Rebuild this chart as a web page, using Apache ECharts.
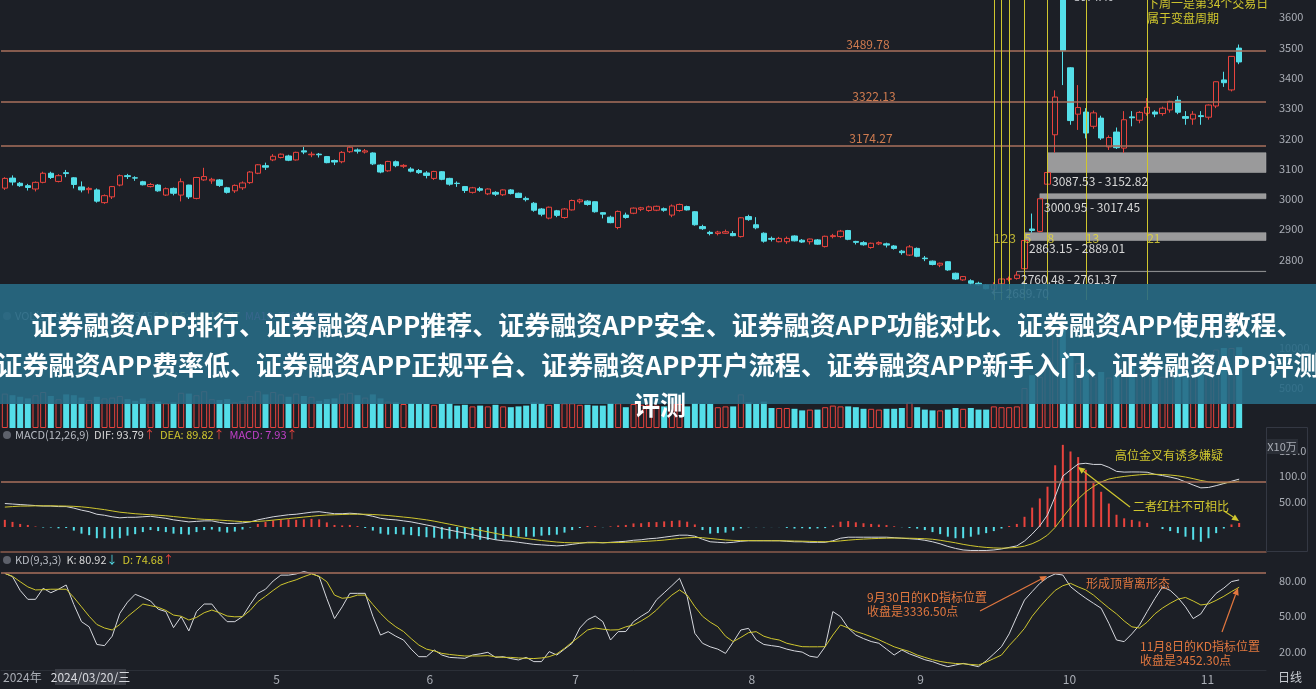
<!DOCTYPE html>
<html>
<head>
<meta charset="utf-8">
<title>上证指数 日线</title>
<script src="https://cdn.jsdelivr.net/npm/echarts@6/dist/echarts.min.js"></script>
<style>
  html, body { margin: 0; padding: 0; background: #1c1f26; }
  #chart { width: 1316px; height: 689px; }
</style>
</head>
<body>
<div id="chart"></div>
<script>
// 2024-03-11 ~ 2024-11-08 日线
const candleOpen = [
  3036, 3069, 3052, 3044, 3033, 3055, 3085, 3058, 3087, 3070, 3040, 3031, 3030, 2988, 3007,
  3046, 3077, 3070, 3057, 3041, 3046, 3013, 3035, 3013, 3046, 3002, 3063, 3060, 3063, 3037, 3027, 3037, 3054, 3085, 3110,
  3129, 3137, 3142, 3129, 3159, 3146, 3148, 3140, 3127, 3123, 3156, 3162, 3155, 3152, 3112, 3093, 3123, 3108, 3099, 3094,
  3086, 3068, 3090, 3068, 3052, 3041, 3022, 3034, 3017, 3022, 3014, 3030, 3019, 3002, 2986, 2967, 2937, 2961, 2939,
  2964, 2991, 2993, 2991, 2955, 2940, 2906, 2947, 2953, 2966, 2962, 2963, 2968, 2947, 2962, 2975, 2958, 2909, 2890, 2886, 2887, 2886, 2876,
  2942, 2915, 2887, 2870, 2859, 2859, 2878, 2864, 2859, 2865, 2843, 2876, 2876, 2896, 2860, 2856, 2840, 2852, 2852, 2845, 2828, 2815,
  2837, 2805, 2795, 2782, 2793, 2755, 2733, 2730, 2722, 2716, 2702, 2720, 2735, 2738, 2770, 2901, 2893, 3049, 3212,
  3674.4, 3433, 3280, 3287, 3240, 3267, 3172, 3221, 3168, 3271, 3260, 3283, 3287, 3282, 3294, 3326, 3272, 3264,
  3275, 3270, 3307, 3393, 3360, 3498
];
const candleClose = [
  3068, 3056, 3044, 3038, 3055, 3085, 3071, 3077, 3084, 3048, 3030, 3035, 2993, 3011, 3041,
  3077, 3074, 3069, 3047, 3048, 3027, 3034, 3019, 3057, 3007, 3071, 3074, 3065, 3045, 3022, 3045, 3053, 3089, 3113, 3105,
  3141, 3148, 3128, 3154, 3155, 3148, 3146, 3120, 3122, 3154, 3171, 3158, 3159, 3116, 3089, 3124, 3110, 3111, 3092, 3087,
  3078, 3091, 3065, 3049, 3051, 3028, 3037, 3029, 3033, 3016, 3030, 3018, 3005, 2998, 2963, 2950, 2973, 2946, 2967,
  2995, 2997, 2982, 2958, 2950, 2922, 2959, 2939, 2970, 2971, 2974, 2976, 2963, 2977, 2982, 2964, 2915, 2902, 2886, 2891, 2892, 2879, 2938,
  2932, 2905, 2861, 2867, 2870, 2870, 2862, 2858, 2868, 2851, 2877, 2879, 2894, 2867, 2857, 2849, 2854, 2856, 2848, 2837, 2823, 2842,
  2811, 2803, 2784, 2788, 2766, 2736, 2744, 2722, 2717, 2704, 2717, 2736, 2737, 2749, 2863.13, 2896.31, 3000.95, 3087.53, 3336.5,
  3489.78, 3258.86, 3301.93, 3217.74, 3284.32, 3201.29, 3202.95, 3169.38, 3261.56, 3268.11, 3285.87, 3302.8, 3280.26, 3299.7, 3322.2, 3286.41, 3266.24, 3279.82,
  3272.01, 3310.21, 3386.99, 3383.81, 3470.66, 3452.3
];
const candleLow = [
  3030, 3045, 3040, 3028, 3025, 3052, 3066, 3055, 3072, 3035, 3022, 3018, 2988, 2984, 3000,
  3042, 3066, 3060, 3045, 3038, 3024, 3010, 3012, 2992, 3000, 2999, 3060, 3050, 3040, 3018, 3020, 3030, 3050, 3082, 3096,
  3125, 3134, 3125, 3127, 3148, 3138, 3137, 3118, 3112, 3118, 3152, 3150, 3150, 3112, 3085, 3090, 3105, 3102, 3088, 3083,
  3068, 3063, 3062, 3044, 3040, 3020, 3018, 3024, 3013, 3010, 3010, 3015, 3003, 2992, 2958, 2943, 2933, 2940, 2935,
  2962, 2985, 2978, 2955, 2936, 2920, 2900, 2935, 2950, 2960, 2958, 2960, 2958, 2940, 2958, 2962, 2912, 2898, 2880, 2880, 2885, 2877, 2873,
  2928, 2900, 2856, 2860, 2857, 2852, 2860, 2855, 2850, 2849, 2840, 2870, 2872, 2864, 2850, 2846, 2836, 2848, 2840, 2833, 2816, 2812,
  2808, 2795, 2781, 2775, 2763, 2733, 2730, 2715, 2714, 2702, 2689.7, 2716, 2728, 2734, 2761.37, 2889.01, 2889.5, 3017.45, 3152.82,
  3376, 3245, 3228, 3200, 3232, 3195, 3162, 3165, 3152, 3240, 3250, 3275, 3270, 3275, 3285, 3280, 3245, 3245,
  3245, 3262, 3300, 3370, 3355, 3445
];
const candleHigh = [
  3072, 3078, 3056, 3050, 3058, 3090, 3090, 3082, 3096, 3072, 3058, 3040, 3035, 3015, 3043,
  3081, 3083, 3075, 3060, 3053, 3049, 3038, 3038, 3068, 3047, 3073, 3103, 3070, 3066, 3040, 3048, 3058, 3092, 3115, 3120,
  3148, 3150, 3146, 3156, 3172, 3156, 3152, 3142, 3130, 3158, 3174, 3167, 3165, 3154, 3115, 3126, 3127, 3115, 3105, 3099,
  3092, 3093, 3092, 3070, 3058, 3043, 3040, 3040, 3035, 3026, 3032, 3033, 3021, 3008, 2990, 2970, 2975, 2964, 2970,
  2998, 3001, 2996, 2992, 2957, 2945, 2962, 2955, 2972, 2974, 2978, 2978, 2972, 2982, 2985, 2978, 2960, 2915, 2895, 2895, 2899, 2894, 2940,
  2948, 2940, 2890, 2876, 2875, 2876, 2880, 2868, 2869, 2868, 2879, 2885, 2898, 2898, 2862, 2861, 2856, 2860, 2856, 2848, 2832, 2848,
  2840, 2812, 2797, 2790, 2795, 2757, 2746, 2735, 2727, 2719, 2725, 2740, 2744, 2760.48, 2863.15, 2952, 3000.95, 3087.53, 3358.59,
  3674.4, 3435, 3376, 3300, 3292, 3275, 3210, 3236, 3290, 3290, 3290, 3333, 3293, 3305, 3324, 3340, 3290, 3290,
  3290, 3312, 3388, 3420, 3472, 3509.81
];
// 成交量 (X10万)
const volume = [
  4300, 4100, 3900, 3700, 4100, 4500, 4000, 3600, 4200, 4100, 3800, 3500, 3900, 3700, 3800,
  4000, 3600, 3400, 3700, 3400, 3300, 3100, 3200, 4400, 4300, 4100, 4600, 3600, 3500, 3600, 3200, 3400, 4000, 4600, 4200,
  4500, 4200, 3900, 4300, 4000, 3900, 3400, 3600, 3700, 4300, 4400, 4100, 3800, 4200, 3700, 3300, 3200, 3000, 3100, 3000,
  3000, 2900, 3000, 3100, 2800, 2900, 2700, 2800, 2700, 2900, 2700, 2600, 2700, 2800, 3200, 3100, 2900, 3000, 3100,
  3100, 2900, 2900, 2800, 2800, 3100, 3100, 2600, 3000, 2900, 2900, 2800, 2700, 3300, 3000, 2700, 3100, 3000, 3000, 2600, 2700, 2700, 4200,
  3200, 3000, 3300, 2500, 2500, 2500, 2400, 2200, 2300, 2300, 2600, 2800, 2700, 2700, 2600, 2400, 2400, 2300, 2400, 2400, 2500, 3200,
  2600, 2300, 2200, 2200, 2300, 2500, 2400, 2500, 2300, 2300, 2700, 2600, 2600, 2700, 5000, 6600, 6400, 8800, 11900,
  12800, 9300, 8100, 7400, 6400, 7000, 6300, 6600, 8200, 7700, 6800, 7600, 6700, 6400, 7400, 7600, 6900, 7600,
  7900, 8300, 9800, 10000, 10000, 10100
];
const difLine = [
  46, 45, 44, 43, 42, 41, 41, 40, 40, 37, 33, 30, 25, 23, 20, 18, 19, 19, 20, 21, 19,
  17, 14, 12, 10, 11, 12, 12, 9, 7, 7, 8, 10, 14, 17,
  20, 22, 24, 25, 27, 29, 30, 28, 26, 26, 27, 26, 24, 21, 17, 15, 14, 12, 10, 7, 4,
  1, -3, -6, -9, -12, -15, -19, -22, -25, -27, -28, -30, -32, -34, -35, -36, -37, -36,
  -34, -32, -30, -30, -31, -30, -29, -28, -26, -25, -23, -22, -20, -18, -16, -16, -18,
  -24, -29, -30, -31, -30, -28, -27, -27, -27, -27, -27, -28, -29, -29, -30, -30, -30, -27, -22, -20, -20, -20, -20, -20, -20, -21, -22, -23,
  -24, -26, -29, -33, -38, -42, -45, -46, -46, -46, -45, -43, -40, -37,
  -27.5, -13.8, 2.3, 23.6, 59.7, 99.8, 111.8, 123.4, 124.9, 122.6, 122.7, 117, 109, 107.6, 107.9, 107.8, 107.3, 103.3, 100.8, 97.8,
  94.3, 88.4, 82.3, 76.7, 77.5, 81, 85.1, 89.7, 93.79
];
const deaLine = [
  39, 40, 41, 41, 41.5, 41.5, 41.5, 41.3, 41, 40.5, 39.5, 38, 36, 34, 31.5, 29, 27.5, 26, 25, 24, 23,
  22, 20.5, 19, 17.5, 16, 15, 14.5, 13.5, 12.5, 11.5, 10.5, 10.5, 11, 12,
  13.5, 15, 16.5, 18, 19.5, 21, 22.5, 23.5, 24, 24.5, 25, 25, 25, 24.5, 23.5, 22.5, 21, 19.5, 18, 16, 14,
  11.5, 8.5, 5.5, 2.5, -0.5, -3.5, -6.5, -9.5, -12.5, -15.5, -18, -20.5, -22.5, -24.5, -26.5, -28, -29.5, -30.5,
  -31, -31, -31, -30.8, -30.8, -30.6, -30.5, -30, -29.5, -28.7, -27.8, -26.8, -25.6, -24, -22.5, -21.2, -20.5,
  -21, -22.5, -24, -25.4, -26.3, -26.6, -26.7, -26.8, -26.8, -26.9, -26.9, -27.1, -27.5, -27.8, -28.2, -28.6, -28.9, -28.5, -27.2, -25.8,
  -24.6, -23.7, -23, -22.4, -21.9, -21.7, -21.8, -22,
  -22.4, -23, -24, -26, -28.5, -31, -34, -36.5, -38.5, -40, -41, -41.5, -41, -40,
  -37.5, -32.75, -25.75, -15.9, -0.8, 19.3, 37.8, 54.9, 68.9, 79.6, 88.2, 94, 97, 99.1, 100.9, 102.3, 103.3, 103.3, 102.8, 101.8,
  100.3, 97.9, 94.8, 91.2, 88.5, 87, 86.6, 87.2, 89.82
];
const macdBar = [
  14, 10, 6, 4, 1, -1, -1, -2.6, -2, -7, -13, -16, -22, -22, -23, -22, -17, -14, -10, -6, -8,
  -10, -13, -14, -15, -10, -6, -5, -9, -11, -9, -5, -1, 6, 10,
  13, 14, 15, 14, 15, 16, 15, 9, 4, 3, 4, 2, -2, -7, -13, -15, -14, -15, -16, -18, -20,
  -21, -23, -23, -23, -23, -23, -25, -25, -25, -23, -20, -19, -19, -19, -17, -16, -15, -11,
  -6, -2, 2, 1.6, -0.4, 1.2, 3, 4, 7, 7.4, 9.6, 9.6, 11, 12, 13, 10.4, 5,
  -6, -13, -12, -11, -7, -3, -0.6, -0.4, -0.4, -0.2, -0.2, -1.8, -3, -2.4, -3.6, -2.8, -2.2, 3, 10.4, 11.6,
  9.2, 7.4, 6, 4.8, 3.8, 1.4, -0.4, -2,
  -3.2, -6, -10, -14, -19, -22, -22, -19, -15, -12, -8, -3, 2, 6,
  20, 38, 56, 79, 121, 161, 148, 137, 112, 86, 69, 46, 24, 17, 14, 11, 8, 0, -4, -8,
  -12, -19, -25, -29, -22, -12, -3, 5, 7.93
];
const kLine = [
  86.5, 83.7, 72, 64.4, 64.4, 73.8, 70, 73, 76.6, 60,
  45.4, 41, 26, 25, 33, 52.5, 62, 68.7, 66, 63,
  56, 54, 40.3, 49.7, 37.5, 54, 60.4, 60.4, 52, 45.4,
  45.4, 49.7, 60, 69.5, 73, 80, 85, 85, 86, 88,
  86.5, 83.7, 65, 48, 58, 69.5, 69.5, 69.5, 50, 34,
  36.9, 33, 29.8, 22, 15.6, 15.6, 21.3, 17, 15, 14.6,
  14.2, 17, 18, 19.3, 15, 15.6, 14, 12.8, 15, 11.4,
  11.4, 19.9, 17, 22, 27, 40, 47, 50.2, 45.4, 29.8,
  36.9, 37, 45.4, 50, 54, 64, 70, 76, 82.3, 66.7,
  35.5, 27, 24, 22, 18.4, 28, 38.3, 39.7, 30, 26,
  25, 24.1, 22, 20.5, 19.5, 16, 15, 24.1, 54, 49.7,
  40, 34, 31, 28.5, 27, 22, 17, 21.3, 18, 15.6,
  13, 11.4, 9, 7.1, 8.5, 9.9, 8.5, 7.1, 12, 18,
  24.1, 35, 49.7, 63.8, 71, 78, 83, 86, 85.1, 75.2,
  70, 65.3, 61, 56.8, 44, 29.8, 28.4, 35, 42.6, 54,
  65, 75, 72, 66, 58, 48, 52, 62, 69.5, 74,
  79.5, 80.92
];
const dLine = [
  86.5, 84, 79.4, 75, 72.4, 72.6, 73, 73, 73, 66,
  58, 50, 43, 40, 38.3, 43, 49.7, 55, 60.4, 59,
  57.6, 55, 51, 50, 46.8, 49, 53, 55.3, 53, 50.2,
  49.5, 49.7, 55, 62.4, 67, 72, 76.6, 79, 81, 83.7,
  86, 84, 79.4, 68, 65.3, 66, 68, 68, 60, 52.5,
  46, 41, 37, 31, 25.5, 22, 20.5, 18.4, 17.5, 16.8,
  16.2, 16.2, 16.2, 16.5, 15.5, 15, 15, 14.5, 14.2, 14,
  14.5, 15.6, 18, 22.7, 28, 33, 38.3, 40, 39, 38.3,
  38.5, 41, 42.6, 46, 50, 55.3, 62, 68, 72.4, 68,
  58.2, 50, 45, 41.1, 33, 28.4, 32, 36, 36.9, 33,
  31, 29.8, 27, 25.5, 24.1, 24, 24, 24.1, 34, 42.6,
  40, 37, 35, 32.6, 30, 27, 24, 21.9, 20, 17,
  15, 13, 11.5, 10.5, 9.8, 9.5, 9, 8.5, 11, 14,
  17, 25, 32, 39.7, 50, 58, 65.3, 72, 76, 78,
  75, 72.4, 68, 62.4, 57, 52, 46, 41, 40, 45,
  52, 57, 61, 64.5, 66, 63, 59.6, 60.5, 63.5, 67,
  71, 74.68
];
// 斐波那契时间窗 (K线序号)
const fibIdx = [129, 130, 131, 133, 136, 141, 149];
const fibNums = ['1', '2', '3', '5', '8', '13', '21'];
// 水平压力/支撑线
const levels = [3489.78, 3322.13, 3174.27];
// 缺口: [起始K线序号, 下沿, 上沿]
const gaps = [[136, 3087.53, 3152.82], [135, 3000.95, 3017.45], [133, 2863.15, 2889.01], [132, 2760.48, 2761.37]];
// 月份刻度
const monthStarts = {35: '5', 55: '6', 74: '7', 97: '8', 119: '9', 138: '10', 156: '11'};
const priceTicks = [2800, 2900, 3000, 3100, 3200, 3300, 3400, 3500, 3600];
const volTicks = [5000, 10000];
const macdTicks = [50, 100, 150];
const macdTickText = {50: '50.00', 100: '100.0', 150: '150.0'};
const kdTicks = [20, 50, 80];
const kdTickText = {20: '20.00', 50: '50.00', 80: '80.00'};

const SLOTS = 165;
const upColor = '#e8433d';
const downColor = '#54dfe9';
const yellow = '#cfc62e';
const fibYellow = '#e8dc38';
const orange = '#e2773f';
const levelColor = '#a8705c';
const FONT = '"Noto Sans CJK SC", "Noto Sans", sans-serif';

const cats = [];
for (let i = 0; i < SLOTS; i++) cats.push(String(i));

const kData = candleOpen.map((o, i) => [o, candleClose[i], candleLow[i], candleHigh[i]]);
const volData = volume.map((v, i) => {
  const up = candleClose[i] >= candleOpen[i];
  return {
    value: v,
    itemStyle: up ? {color: 'transparent', borderColor: upColor, borderWidth: 1} : {color: downColor}
  };
});

const grids = [
  {left: 1, right: 50, top: 0, height: 300},
  {left: 1, right: 50, top: 325, height: 103},
  {left: 1, right: 50, top: 440, height: 112},
  {left: 1, right: 50, top: 562, height: 108}
];

function xAxisFor(gi) {
  const last = gi === 3;
  return {
    type: 'category', gridIndex: gi, data: cats, boundaryGap: true,
    axisLine: gi === 2 ? {show: true, onZero: false, lineStyle: {color: '#8a5c4c', width: 1.5}}
      : (last ? {show: true, lineStyle: {color: '#2b2f37'}} : {show: false}),
    axisTick: {show: false},
    splitLine: {show: false},
    axisLabel: last ? {
      show: true, interval: 0, align: 'left', margin: 3, color: '#a9adb5', fontSize: 12, fontFamily: FONT,
      formatter: (v, i) => monthStarts[i] || ''
    } : {show: false}
  };
}

function yAxisFor(gi, min, max, ticks, fmt) {
  return {
    type: 'value', gridIndex: gi, position: 'right', min: min, max: max, scale: true,
    axisLine: {show: false}, axisTick: {show: false}, splitLine: {show: false},
    axisLabel: {
      show: true, margin: 13, color: '#a9adb5', fontSize: 11, fontFamily: FONT,
      customValues: ticks, formatter: fmt
    }
  };
}

function arrow(x1, y1, x2, y2, color) {
  const a = Math.atan2(y2 - y1, x2 - x1), L = 7, W = 3.2;
  const bx = x2 - L * Math.cos(a), by = y2 - L * Math.sin(a);
  const px = -Math.sin(a) * W, py = Math.cos(a) * W;
  return [
    {type: 'line', z: 50, shape: {x1: x1, y1: y1, x2: bx, y2: by}, style: {stroke: color, lineWidth: 1.2}},
    {type: 'polygon', z: 50, shape: {points: [[x2, y2], [bx + px, by + py], [bx - px, by - py]]}, style: {fill: color}}
  ];
}

function txt(x, y, text, color, size, align, extra) {
  return Object.assign({
    type: 'text', z: 50, x: x, y: y,
    style: {text: text, fill: color, fontSize: size, fontFamily: FONT, align: align || 'left', verticalAlign: 'middle'}
  }, extra || {});
}

function bannerLine(x, y, text) {
  return {
    type: 'text', z: 101, x: x, y: y,
    style: {
      text: text, fill: '#ffffff', fontSize: 26, fontWeight: 'bold', fontFamily: FONT,
      align: 'center', verticalAlign: 'middle', shadowColor: 'rgba(0,0,0,0.35)', shadowBlur: 2
    }
  };
}

const graphics = [
  // 价格标注
  txt(1094, -3, '3674.40', '#d0d2d6', 11, 'center'),
  txt(868, 44, '3489.78', '#cf7b4f', 12, 'center'),
  txt(874, 96, '3322.13', '#cf7b4f', 12, 'center'),
  txt(871, 138, '3174.27', '#cf7b4f', 12, 'center'),
  txt(1147, 3, '下周一是第34个交易日', yellow, 12),
  txt(1147, 18, '属于变盘周期', yellow, 12),
  txt(1052, 181, '3087.53 - 3152.82', '#d8d8d8', 12),
  txt(1044, 207, '3000.95 - 3017.45', '#d8d8d8', 12),
  txt(1029, 248, '2863.15 - 2889.01', '#d8d8d8', 12),
  txt(1021, 279, '2760.48 - 2761.37', '#d8d8d8', 12),
  txt(991, 293, '← 2689.70', '#d8d8d8', 12),
  // 副图标题
  {type: 'circle', z: 50, shape: {cx: 7, cy: 316, r: 4}, style: {fill: '#5d616b'}},
  {
    type: 'text', z: 50, x: 15, y: 316,
    style: {
      text: '{g|VOL(5,10,20)}  {w|VOL: 66403456}  {y|MA5: 86112977}  {m|MA10: 78610290}',
      fontSize: 11, fontFamily: FONT, verticalAlign: 'middle',
      rich: {g: {fill: '#b8bcc4'}, w: {fill: '#d8d8d8'}, y: {fill: yellow}, m: {fill: '#c040c8'}}
    }
  },
  {type: 'circle', z: 50, shape: {cx: 7, cy: 435, r: 4}, style: {fill: '#5d616b'}},
  {
    type: 'text', z: 50, x: 15, y: 435,
    style: {
      text: '{g|MACD(12,26,9)}  {w|DIF: 93.79}{r|↑}  {y|DEA: 89.82}{r|↑}  {m|MACD: 7.93}{r|↑}',
      fontSize: 11, fontFamily: FONT, verticalAlign: 'middle',
      rich: {g: {fill: '#b8bcc4'}, w: {fill: '#d8d8d8'}, y: {fill: yellow}, m: {fill: '#c040c8'}, r: {fill: upColor}}
    }
  },
  {type: 'circle', z: 50, shape: {cx: 7, cy: 560, r: 4}, style: {fill: '#5d616b'}},
  {
    type: 'text', z: 50, x: 15, y: 560,
    style: {
      text: '{g|KD(9,3,3)}  {w|K: 80.92}{c|↓}  {y|D: 74.68}{r|↑}',
      fontSize: 11, fontFamily: FONT, verticalAlign: 'middle',
      rich: {g: {fill: '#b8bcc4'}, w: {fill: '#d8d8d8'}, y: {fill: yellow}, r: {fill: upColor}, c: {fill: downColor}}
    }
  },
  // 右侧坐标框
  {type: 'rect', z: 40, shape: {x: 1266.5, y: 427.5, width: 41, height: 124}, style: {fill: 'none', stroke: '#343843', lineWidth: 1}},
  {type: 'rect', z: 41, shape: {x: 1267, y: 439, width: 31, height: 15}, style: {fill: '#2a2e36'}},
  txt(1282, 447, 'X10万', '#a9adb5', 11, 'center', {z: 42}),
  // MACD 注释
  txt(1115, 455, '高位金叉有诱多嫌疑', yellow, 12),
  txt(1133, 506, '二者红柱不可相比', yellow, 12),
  ...arrow(1130, 507, 1078, 467, yellow),
  ...arrow(1224, 511, 1239, 521, yellow),
  // KD 注释
  txt(867, 597, '9月30日的KD指标位置', orange, 12),
  txt(867, 611, '收盘是3336.50点', orange, 12),
  txt(1086, 583, '形成顶背离形态', orange, 12),
  txt(1140, 646, '11月8日的KD指标位置', orange, 12),
  txt(1140, 660, '收盘是3452.30点', orange, 12),
  ...arrow(980, 611, 1047, 576, orange),
  ...arrow(1222, 632, 1238, 588, orange),
  // 底部
  txt(3, 677, '2024年', '#a9adb5', 12),
  {type: 'rect', z: 50, shape: {x: 55, y: 669, width: 71, height: 16}, style: {fill: '#3b3e46'}},
  txt(90.5, 677, '2024/03/20/三', '#d8dadf', 12, 'center', {z: 51}),
  txt(1290, 677, '日线', '#c8ccd2', 12, 'center'),
  // 横幅
  {type: 'rect', z: 100, shape: {x: 0, y: 284, width: 1316, height: 120}, style: {fill: 'rgba(40,106,133,0.9)'}},
  bannerLine(667, 325, '证券融资APP排行、证券融资APP推荐、证券融资APP安全、证券融资APP功能对比、证券融资APP使用教程、'),
  bannerLine(658, 365, '证券融资APP费率低、证券融资APP正规平台、证券融资APP开户流程、证券融资APP新手入门、证券融资APP评测'),
  bannerLine(660, 405, '评测')
];

const chart = echarts.init(document.getElementById('chart'), null, {renderer: 'canvas'});
chart.setOption({
  backgroundColor: '#1c1f26',
  animation: false,
  grid: grids,
  xAxis: [xAxisFor(0), xAxisFor(1), xAxisFor(2), xAxisFor(3)],
  yAxis: [
    yAxisFor(0, 2666.7, 3656.8, priceTicks, v => String(v)),
    yAxisFor(1, 0, 12875, volTicks, v => String(v)),
    yAxisFor(2, -49, 170.5, macdTicks, v => macdTickText[v] || ''),
    yAxisFor(3, 4.26, 96.17, kdTicks, v => kdTickText[v] || '')
  ],
  series: [
    {
      name: 'K线', type: 'candlestick', xAxisIndex: 0, yAxisIndex: 0,
      data: kData, barWidth: 6,
      itemStyle: {color: 'transparent', color0: downColor, borderColor: upColor, borderColor0: downColor, borderWidth: 1},
      markLine: {
        silent: true, symbol: ['none', 'none'], label: {show: false},
        data: levels.map(v => ({yAxis: v, lineStyle: {color: levelColor, width: 1.5, type: 'solid'}}))
          .concat(fibIdx.map(i => ({xAxis: i, lineStyle: {color: yellow, width: 1, type: 'solid'}})))
      },
      markArea: {
        silent: true,
        itemStyle: {color: 'rgba(172,172,172,0.88)', borderColor: 'rgba(172,172,172,0.88)', borderWidth: 0.6},
        data: gaps.map(g => [{xAxis: g[0], yAxis: g[1]}, {x: 1266, yAxis: g[2]}])
      }
    },
    {
      name: '时间窗', type: 'scatter', xAxisIndex: 0, yAxisIndex: 0, symbolSize: 0, silent: true, z: 10,
      data: fibIdx.map(i => [i, 2871]),
      label: {
        show: true, position: 'right', distance: 0, color: fibYellow, fontSize: 12, fontFamily: FONT,
        formatter: p => fibNums[p.dataIndex]
      }
    },
    {
      name: 'VOL', type: 'bar', xAxisIndex: 1, yAxisIndex: 1, data: volData, barWidth: 6
    },
    {
      name: 'MACD', type: 'bar', xAxisIndex: 2, yAxisIndex: 2, data: macdBar, barWidth: 2,
      itemStyle: {color: p => (p.value >= 0 ? upColor : downColor)}
    },
    {
      name: 'DIF', type: 'line', xAxisIndex: 2, yAxisIndex: 2, data: difLine, symbol: 'none',
      lineStyle: {color: '#d6d8de', width: 1},
      markLine: {
        silent: true, symbol: ['none', 'none'], label: {show: false},
        data: [{yAxis: 88, lineStyle: {color: levelColor, width: 1.5, type: 'solid'}}]
      }
    },
    {
      name: 'DEA', type: 'line', xAxisIndex: 2, yAxisIndex: 2, data: deaLine, symbol: 'none',
      lineStyle: {color: yellow, width: 1}
    },
    {
      name: 'K', type: 'line', xAxisIndex: 3, yAxisIndex: 3, data: kLine, symbol: 'none',
      lineStyle: {color: '#d6d8de', width: 1},
      markLine: {
        silent: true, symbol: ['none', 'none'], label: {show: false},
        data: [{yAxis: 86.8, lineStyle: {color: levelColor, width: 1.5, type: 'solid'}}]
      }
    },
    {
      name: 'D', type: 'line', xAxisIndex: 3, yAxisIndex: 3, data: dLine, symbol: 'none',
      lineStyle: {color: yellow, width: 1}
    }
  ],
  graphic: graphics
});
</script>
</body>
</html>
